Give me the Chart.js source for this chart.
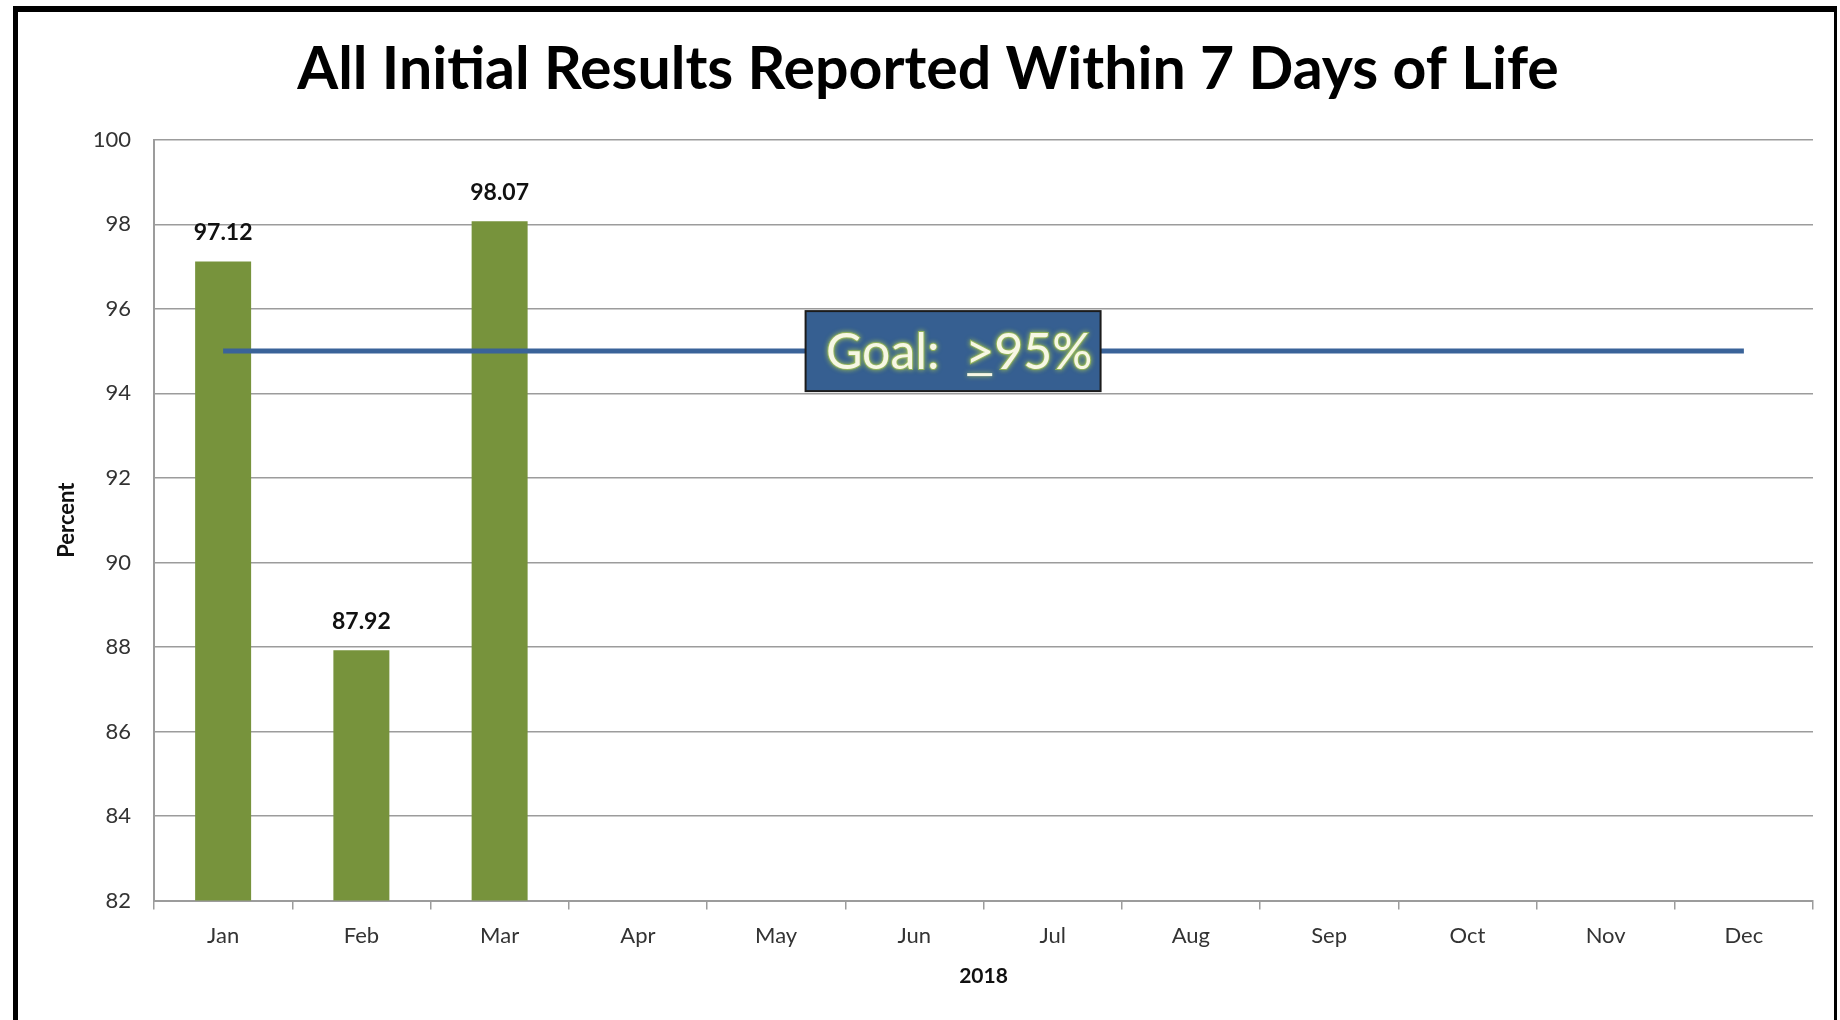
<!DOCTYPE html>
<html>
<head>
<meta charset="utf-8">
<script src="https://cdn.jsdelivr.net/npm/chart.js@4.4.1/dist/chart.umd.min.js"></script>
<style>
  html, body { margin: 0; padding: 0; background: #fff; }
  #wrap { position: relative; width: 1840px; height: 1020px; }
</style>
</head>
<body>
<div id="wrap"><canvas id="goalChart" width="1840" height="1020"></canvas></div>
<script>
// chart data
var months = ['Jan', 'Feb', 'Mar', 'Apr', 'May', 'Jun', 'Jul', 'Aug', 'Sep', 'Oct', 'Nov', 'Dec'];
var percentValues = [97.12, 87.92, 98.07, null, null, null, null, null, null, null, null, null];
var goalValues = [95, 95, 95, 95, 95, 95, 95, 95, 95, 95, 95, 95];
var yTicks = [82, 84, 86, 88, 90, 92, 94, 96, 98, 100];
var chartTitle = 'All Initial Results Reported Within 7 Days of Life';
var yTitle = 'Percent';
var xTitle = '2018';
var goalLabel = ['Goal:  ', '>', '95%'];

var fontFamily = 'Lato, "Open Sans", sans-serif';

// frame round the whole picture
var framePlugin = {
    id: 'frame',
    beforeDraw: function(chart){
        var ctx = chart.ctx;
        ctx.save();
        ctx.fillStyle = '#ffffff';
        ctx.fillRect(0, 0, chart.width, chart.height);
        ctx.fillStyle = '#000000';
        ctx.fillRect(13, 6, 5, chart.height - 6);
        ctx.fillRect(13, 6, 1824, 6);
        ctx.fillRect(1834, 6, 3, chart.height - 6);
        ctx.restore();
    }
};

// value labels over the bars
var barLabelPlugin = {
    id: 'barLabels',
    afterDatasetsDraw: function(chart){
        var ctx = chart.ctx;
        var meta = chart.getDatasetMeta(1);
        ctx.save();
        ctx.font = 'bold 23px ' + fontFamily;
        ctx.fillStyle = '#111111';
        ctx.textAlign = 'center';
        ctx.textBaseline = 'middle';
        meta.data.forEach(function(bar, i){
            var v = percentValues[i];
            if (v == null) return;
            ctx.fillText(v.toFixed(2), bar.x, bar.y - 29);
        });
        ctx.restore();
    }
};

// the goal text box, sitting on the goal line
var goalBoxPlugin = {
    id: 'goalBox',
    afterDatasetsDraw: function(chart){
        var ctx = chart.ctx;
        var xs = chart.scales.x, ys = chart.scales.y;
        var step = xs.getPixelForValue(1) - xs.getPixelForValue(0);
        var cx = xs.getPixelForValue(5) + 0.28 * step;
        var cy = ys.getPixelForValue(goalValues[5]);
        var w = 295, h = 80;
        ctx.save();
        ctx.fillStyle = '#365f91';
        ctx.fillRect(cx - w / 2, cy - h / 2, w, h);
        ctx.lineWidth = 2;
        ctx.strokeStyle = '#1c1c1c';
        ctx.strokeRect(cx - w / 2, cy - h / 2, w, h);

        ctx.font = '50px ' + fontFamily;
        ctx.textBaseline = 'middle';
        ctx.textAlign = 'left';
        var widths = goalLabel.map(function(t){ return ctx.measureText(t).width; });
        var total = widths.reduce(function(a, b){ return a + b; }, 0);
        var x = cx - total / 2 + 6;
        var ty = cy + 2;
        ctx.shadowColor = '#9bbb59';
        ctx.shadowBlur = 5;
        ctx.fillStyle = '#f7f7e4';
        ctx.lineWidth = 2;
        ctx.strokeStyle = 'rgba(155,187,89,0.8)';
        goalLabel.forEach(function(t, i){
            ctx.strokeText(t, x, ty);
            ctx.fillText(t, x, ty);
            if (i === 1) {
                ctx.fillRect(x + 2, ty + 20, widths[i] - 4, 3);
            }
            x += widths[i];
        });
        ctx.restore();
    }
};

var gridColor = '#9c9c9c';

new Chart(document.getElementById('goalChart'), {
    type: 'bar',
    data: {
        labels: months,
        datasets: [{
            type: 'line',
            label: 'Goal',
            data: goalValues,
            borderColor: '#3a6399',
            borderWidth: 5,
            pointRadius: 0,
            fill: false,
            order: 0
        }, {
            type: 'bar',
            label: 'Percent',
            data: percentValues,
            backgroundColor: '#77933c',
            barPercentage: 0.405,
            categoryPercentage: 1,
            order: 1
        }]
    },
    options: {
        responsive: false,
        animation: false,
        layout: { padding: { left: 43, right: 27, top: 0, bottom: 0 } },
        plugins: {
            legend: { display: false },
            tooltip: { enabled: false },
            title: {
                display: true,
                text: chartTitle,
                color: '#000000',
                font: { family: fontFamily, size: 59, weight: 'bold', lineHeight: 1.2 },
                padding: { top: 35, bottom: 34 }
            }
        },
        scales: {
            x: {
                offset: true,
                grid: {
                    offset: true,
                    drawOnChartArea: false,
                    color: gridColor,
                    lineWidth: 1.5,
                    tickLength: 9
                },
                border: { color: gridColor, width: 2 },
                ticks: {
                    color: '#333333',
                    padding: 13,
                    font: { family: fontFamily, size: 22 }
                },
                title: {
                    display: true,
                    text: xTitle,
                    color: '#111111',
                    font: { family: fontFamily, size: 21, weight: 'bold' },
                    padding: { top: 0, bottom: 31 }
                },
                afterFit: function(scale){ scale.height = 119.5; }
            },
            y: {
                min: 82,
                max: 100,
                afterBuildTicks: function(scale){
                    scale.ticks = yTicks.map(function(v){ return { value: v }; });
                },
                grid: {
                    color: gridColor,
                    lineWidth: 1.5,
                    drawTicks: false
                },
                border: { color: gridColor, width: 2 },
                ticks: {
                    color: '#333333',
                    padding: 23,
                    font: { family: fontFamily, size: 22 }
                },
                title: {
                    display: true,
                    text: yTitle,
                    color: '#111111',
                    font: { family: fontFamily, size: 22, weight: 'bold' },
                    padding: { top: 11, bottom: 0 }
                },
                afterFit: function(scale){ scale.width = 111; }
            }
        }
    },
    plugins: [framePlugin, barLabelPlugin, goalBoxPlugin]
});
</script>
</body>
</html>
